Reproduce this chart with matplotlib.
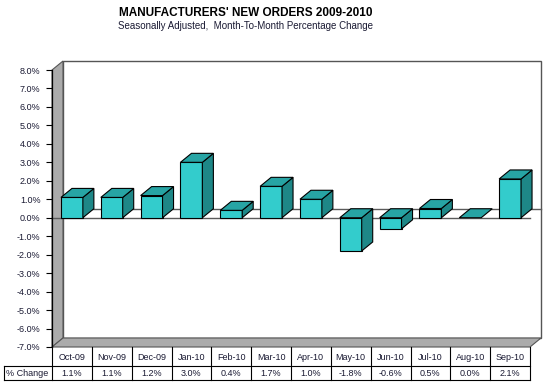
import matplotlib
matplotlib.use("Agg")
import matplotlib.pyplot as plt
from matplotlib.patches import Polygon
from matplotlib.lines import Line2D

plt.rcParams["font.family"] = ["Liberation Sans", "DejaVu Sans"]

months = ["Oct-09", "Nov-09", "Dec-09", "Jan-10", "Feb-10", "Mar-10",
          "Apr-10", "May-10", "Jun-10", "Jul-10", "Aug-10", "Sep-10"]
pct_change = [1.1, 1.1, 1.2, 3.0, 0.4, 1.7, 1.0, -1.8, -0.6, 0.5, 0.0, 2.1]
y_ticks = list(range(-7, 9))

W, H = 550, 384
FRONT = "#33CCCC"
TOP = "#27A4A4"
SIDE = "#1E8787"
WALL = "#ABABAB"
TEXT = "#1a1a33"

fig = plt.figure(figsize=(W / 100, H / 100), dpi=100)
ax_l, ax_r, ax_t, ax_b = 52, 530, 70, 347
ax = fig.add_axes([ax_l / W, 1 - ax_b / H, (ax_r - ax_l) / W, (ax_b - ax_t) / H])
n = len(months)
ymin, ymax = y_ticks[0], y_ticks[-1]
ax.set_xlim(0, n)
ax.set_ylim(ymin, ymax)

# 3d depth, in data units (11px right, 9px up)
dx = 11 / (ax_r - ax_l) * n
dy = 9 / (ax_b - ax_t) * (ymax - ymin)


def poly(pts, fc, ec="#000000", lw=0.8, z=2):
    ax.add_patch(Polygon(pts, closed=True, facecolor=fc, edgecolor=ec,
                         linewidth=lw, clip_on=False, zorder=z))


# walls
poly([(dx, ymin + dy), (n + dx, ymin + dy), (n + dx, ymax + dy), (dx, ymax + dy)],
     "white", ec="#555555", lw=1.0, z=0.5)
poly([(0, ymin), (dx, ymin + dy), (dx, ymax + dy), (0, ymax)], WALL, ec="#555555", lw=0.8, z=0.6)
poly([(0, ymin), (dx, ymin + dy), (n + dx, ymin + dy), (n, ymin)], WALL, ec="#555555", lw=0.8, z=0.6)

# zero plane
ax.plot([0, n], [0, 0], color="#5a5a5a", lw=1.0, clip_on=False, zorder=1)
ax.plot([dx, n + dx], [dy, dy], color="#5a5a5a", lw=1.0, clip_on=False, zorder=1)

bw = 0.55
for i, v in enumerate(pct_change):
    x0 = i + 0.5 - bw / 2
    x1 = x0 + bw
    lo, hi = min(0, v), max(0, v)
    if hi > lo:
        poly([(x0, lo), (x1, lo), (x1, hi), (x0, hi)], FRONT, z=3)
        poly([(x1, lo), (x1 + dx, lo + dy), (x1 + dx, hi + dy), (x1, hi)], SIDE, z=3)
    poly([(x0, hi), (x1, hi), (x1 + dx, hi + dy), (x0 + dx, hi + dy)], TOP, z=3)

# axis
for s in ["top", "right", "bottom"]:
    ax.spines[s].set_visible(False)
ax.spines["left"].set_color("#000000")
ax.spines["left"].set_linewidth(0.9)
ax.spines["left"].set_zorder(4)
ax.set_facecolor("none")
ax.set_xticks([])
ax.set_yticks(y_ticks)
ax.set_yticklabels([f"{t:.1f}%" for t in y_ticks])
ax.tick_params(axis="y", direction="out", length=4, width=0.8, pad=4.3,
               labelsize=6.5, labelcolor=TEXT)


def fx(px):
    return px / W


def fy(py):
    return 1 - py / H


# data table
col_w = (ax_r - ax_l) / n
t_top, t_mid, t_bot, lab_l = 347, 366, 380, 4
lc = "#000000"
for i in range(n + 1):
    x = ax_l + i * col_w
    fig.add_artist(Line2D([fx(x), fx(x)], [fy(t_top), fy(t_bot)], color=lc, lw=0.8))
fig.add_artist(Line2D([fx(lab_l), fx(lab_l)], [fy(t_mid), fy(t_bot)], color=lc, lw=0.8))
fig.add_artist(Line2D([fx(lab_l), fx(ax_r)], [fy(t_mid), fy(t_mid)], color=lc, lw=0.8))
fig.add_artist(Line2D([fx(lab_l), fx(ax_r)], [fy(t_bot), fy(t_bot)], color=lc, lw=0.8))
for i, (m, v) in enumerate(zip(months, pct_change)):
    cx = ax_l + (i + 0.5) * col_w
    fig.text(fx(cx), fy((t_top + t_mid) / 2 + 0.5), m, ha="center", va="center",
             fontsize=6.5, color=TEXT)
    fig.text(fx(cx), fy((t_mid + t_bot) / 2 + 0.5), f"{v:.1f}%", ha="center", va="center",
             fontsize=6.5, color=TEXT)
fig.text(fx(lab_l + 2), fy((t_mid + t_bot) / 2 + 0.5), "% Change", ha="left", va="center",
         fontsize=6.5, color=TEXT)

# titles
fig.text(fx(246), fy(13.5), "MANUFACTURERS' NEW ORDERS 2009-2010", ha="center",
         va="center", fontsize=8.5, fontweight="bold", color="#000000")
fig.text(fx(246), fy(26), "Seasonally Adjusted,  Month-To-Month Percentage Change",
         ha="center", va="center", fontsize=7, color=TEXT)

fig.savefig("out.png", dpi=100)
